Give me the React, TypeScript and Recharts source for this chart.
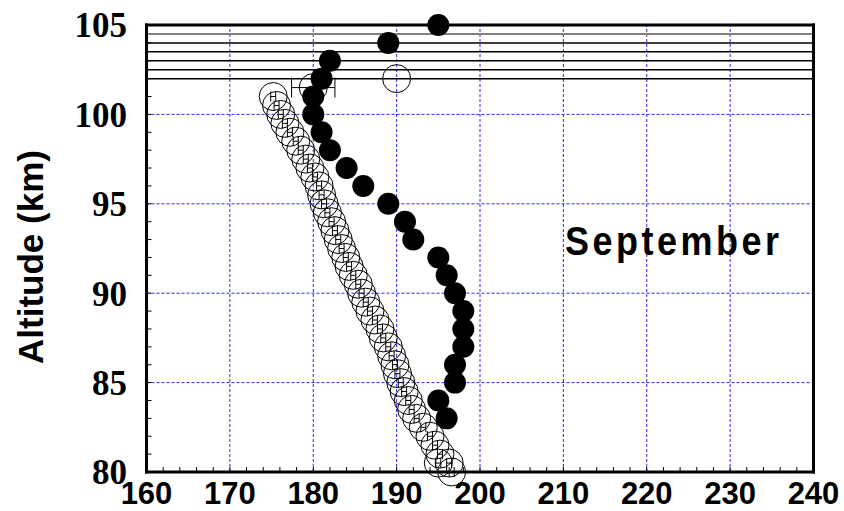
import React from 'react';
import {
  ScatterChart, Scatter, XAxis, YAxis, ReferenceLine, ErrorBar,
} from 'recharts';

// solid circles (September profile)
const solidAlt = [105, 104, 103, 102, 101, 100, 99, 98, 97, 96, 95, 94, 93, 92, 91, 90, 89, 88, 87, 86, 85, 84, 83];
const solidTemp = [195, 189, 182, 181, 180, 180, 181, 182, 184, 186, 189, 191, 192, 195, 196, 197, 198, 198, 198, 197, 197, 195, 196];

// open circles with small error bars
const openAlt = [101, 100.5, 100, 99.5, 99, 98.5, 98, 97.5, 97, 96.5, 96, 95.5, 95, 94.5, 94, 93.5, 93, 92.5, 92, 91.5, 91, 90.5, 90,
  89.5, 89, 88.5, 88, 87.5, 87, 86.5, 86, 85.5, 85, 84.5, 84, 83.5, 83, 82.5, 82, 81.5, 81, 80.5, 80.5, 80];
const openTemp = [175.2, 175.6, 176.1, 176.6, 177.2, 177.9, 178.5, 179.1, 179.6, 180.2, 180.7, 181.0, 181.3, 181.7, 182.2, 182.6, 183.0,
  183.4, 183.9, 184.3, 184.8, 185.4, 185.8, 186.3, 186.8, 187.4, 188.0, 188.4, 189.0, 189.4, 189.8, 190.1, 190.5, 190.9, 191.4,
  191.8, 192.4, 193.2, 194.0, 194.6, 195.2, 195.0, 196.3, 196.6];
const openErr = [0.3, 0.3, 0.3, 0.3, 0.3, 0.3, 0.3, 0.3, 0.3, 0.3, 0.3, 0.3, 0.3, 0.3, 0.3, 0.3, 0.3, 0.3, 0.3, 0.3, 0.3, 0.3, 0.3,
  0.3, 0.3, 0.3, 0.3, 0.3, 0.3, 0.3, 0.3, 0.3, 0.3, 0.3, 0.3, 0.3, 0.3, 0.3, 0.3, 0.3, 0.3, 0.3, 0.3, 0.3];

// upper open points
const wideAlt = [101.5];
const wideTemp = [180.0];
const wideErr = [2.6];
const loneAlt = [102];
const loneTemp = [190];

// horizontal layer lines near the top
const layerLines = [102, 102.5, 103, 103.5, 104, 104.5];

const xTicks = [160, 162, 164, 166, 168, 170, 172, 174, 176, 178, 180, 182, 184, 186, 188, 190, 192, 194, 196, 198, 200,
  202, 204, 206, 208, 210, 212, 214, 216, 218, 220, 222, 224, 226, 228, 230, 232, 234, 236, 238, 240];
const yTicks = [80, 81, 82, 83, 84, 85, 86, 87, 88, 89, 90, 91, 92, 93, 94, 95, 96, 97, 98, 99, 100, 101, 102, 103, 104, 105];
const xGrid = [170, 180, 190, 200, 210, 220, 230];
const yGrid = [85, 90, 95, 100];

const solidData = solidAlt.map((y, i) => ({ x: solidTemp[i], y }));
const openData = openAlt.map((y, i) => ({ x: openTemp[i], y, err: openErr[i] }));
const wideData = wideAlt.map((y, i) => ({ x: wideTemp[i], y, err: wideErr[i] }));
const loneData = loneAlt.map((y, i) => ({ x: loneTemp[i], y }));

const SolidDot = (p: any) => <circle cx={p.cx} cy={p.cy} r={11} fill="#000" />;
const OpenDot = (p: any) => <circle cx={p.cx} cy={p.cy} r={14} fill="none" stroke="#000" strokeWidth={1} />;
const NoDot = () => <g />;

const sans = '"Liberation Sans", Arial, sans-serif';
const serif = '"Liberation Serif", "Times New Roman", serif';
const frame = { stroke: '#000', strokeWidth: 3, strokeLinecap: 'square' as const };
const gridBlue = '#2a2ae6';

export default function App() {
  return (
    <div style={{ position: 'absolute', left: 0, top: 0, width: 844, height: 511, background: '#fff' }}>
      <ScatterChart width={844} height={511} margin={{ top: 24, right: 29.5, left: 0, bottom: 0 }}>
        <XAxis
          xAxisId="b" type="number" dataKey="x" domain={[160, 240]} ticks={xTicks} interval={0}
          height={39} tickSize={-5} tickMargin={15}
          tickFormatter={(v: number) => (v % 10 === 0 ? String(v) : '')}
          axisLine={frame} tickLine={{ stroke: '#000', strokeWidth: 1 }}
          tick={{ fill: '#000', fontSize: 31, fontWeight: 'bold', fontFamily: sans }}
        />
        <XAxis
          xAxisId="t" orientation="top" type="number" dataKey="x" domain={[160, 240]} ticks={xTicks} interval={0}
          height={1} tickSize={-5} tick={false}
          axisLine={frame} tickLine={{ stroke: '#000', strokeWidth: 1 }}
        />
        <YAxis
          yAxisId="l" type="number" dataKey="y" domain={[80, 105]} ticks={yTicks} interval={0}
          width={146.5} tickSize={-5} tickMargin={24.5}
          tickFormatter={(v: number) => (v % 5 === 0 ? String(v) : '')}
          axisLine={frame} tickLine={{ stroke: '#000', strokeWidth: 1 }}
          tick={{ fill: '#000', fontSize: 35, fontWeight: 'bold', fontFamily: serif }}
        />
        <YAxis
          yAxisId="r" orientation="right" type="number" dataKey="y" domain={[80, 105]} ticks={yTicks} interval={0}
          width={1} tickSize={-5} tick={false}
          axisLine={frame} tickLine={{ stroke: '#000', strokeWidth: 1 }}
        />

        {xGrid.map((v) => (
          <ReferenceLine key={'gx' + v} x={v} xAxisId="b" yAxisId="l" stroke={gridBlue} strokeDasharray="3 2" strokeWidth={1} />
        ))}
        {yGrid.map((v) => (
          <ReferenceLine key={'gy' + v} y={v} xAxisId="b" yAxisId="l" stroke={gridBlue} strokeDasharray="3 2" strokeWidth={1} />
        ))}
        {layerLines.map((v, i) => (
          <ReferenceLine
            key={'ll' + v} y={v} xAxisId="b" yAxisId="l"
            stroke={i === layerLines.length - 1 ? '#808080' : '#000'} strokeWidth={i === layerLines.length - 1 ? 2 : 1.5}
          />
        ))}

        {/* keeps the mirrored top/right frame axes bound to data */}
        <Scatter data={solidData} xAxisId="t" yAxisId="r" shape={NoDot} isAnimationActive={false} />

        <Scatter data={openData} xAxisId="b" yAxisId="l" shape={OpenDot} isAnimationActive={false}>
          <ErrorBar dataKey="err" direction="x" width={5} stroke="#000" strokeWidth={1} isAnimationActive={false} />
        </Scatter>
        <Scatter data={wideData} xAxisId="b" yAxisId="l" shape={OpenDot} isAnimationActive={false}>
          <ErrorBar dataKey="err" direction="x" width={10} stroke="#000" strokeWidth={1} isAnimationActive={false} />
        </Scatter>
        <Scatter data={loneData} xAxisId="b" yAxisId="l" shape={OpenDot} isAnimationActive={false} />
        <Scatter data={solidData} xAxisId="b" yAxisId="l" shape={SolidDot} isAnimationActive={false} />
      </ScatterChart>

      <svg width={844} height={511} style={{ position: 'absolute', left: 0, top: 0, pointerEvents: 'none' }}>
        <text
          transform="translate(565,255) scale(1,1.12)"
          fontFamily={sans} fontWeight="bold" fontSize={36} letterSpacing={3.5} fill="#000"
        >
          September
        </text>
        <text
          transform="translate(43,257) rotate(-90)" textAnchor="middle"
          fontFamily={sans} fontWeight="bold" fontSize={35} fill="#000"
        >
          Altitude (km)
        </text>
      </svg>
    </div>
  );
}
